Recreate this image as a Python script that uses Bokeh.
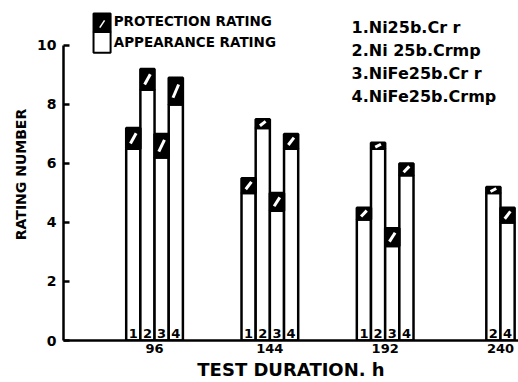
from bokeh.plotting import figure
from bokeh.models import Range1d, FixedTicker, Label
from bokeh.embed import file_html
from bokeh.resources import INLINE
from bokeh.core.properties import value

# ---- data ----
hours = [96, 144, 192, 240]
series_ids = [1, 2, 3, 4]
series_names = ["1.Ni25b.Cr r", "2.Ni 25b.Crmp", "3.NiFe25b.Cr r", "4.NiFe25b.Crmp"]
# appearance rating (white part) per series, per test duration (None = not tested)
appearance_1 = [6.5, 5.0, 4.1, None]
appearance_2 = [8.5, 7.2, 6.5, 5.0]
appearance_3 = [6.2, 4.4, 3.2, None]
appearance_4 = [8.0, 6.5, 5.6, 4.0]
# protection rating (top of hatched part)
protection_1 = [7.2, 5.5, 4.5, None]
protection_2 = [9.2, 7.5, 6.7, 5.2]
protection_3 = [7.0, 5.0, 3.8, None]
protection_4 = [8.9, 7.0, 6.0, 4.5]
y_ticks = [0, 2, 4, 6, 8, 10]

appearance = [appearance_1, appearance_2, appearance_3, appearance_4]
protection = [protection_1, protection_2, protection_3, protection_4]

FONT = "DejaVu Sans"
BAR_W = 5.9

xs, apps, prots, labels = [], [], [], []
for gi, h in enumerate(hours):
    present = [si for si in range(len(series_ids)) if appearance[si][gi] is not None]
    n = len(present)
    for k, si in enumerate(present):
        xs.append(h + (k - (n - 1) / 2) * BAR_W)
        apps.append(appearance[si][gi])
        prots.append(protection[si][gi])
        labels.append(str(series_ids[si]))

p = figure(width=518, height=382, output_backend="svg", toolbar_location=None,
           x_range=Range1d(58.1, 247.5), y_range=Range1d(0, 11.25),
           min_border_left=63, min_border_right=0, min_border_top=8, min_border_bottom=41)
p.outline_line_color = None
p.xgrid.visible = False
p.ygrid.visible = False
p.background_fill_color = "white"

# white appearance bars
p.vbar(x=xs, width=BAR_W, bottom=0, top=apps, fill_color="white",
       line_color="black", line_width=2.5)
# black protection caps with a white diagonal stroke
p.vbar(x=xs, width=BAR_W, bottom=apps, top=prots, fill_color="black",
       line_color="black", line_width=2.5)
sx0 = [x - 0.2 * BAR_W for x in xs]
sx1 = [x + 0.2 * BAR_W for x in xs]
sy0 = [a + 0.25 * (t - a) for a, t in zip(apps, prots)]
sy1 = [a + 0.75 * (t - a) for a, t in zip(apps, prots)]
p.segment(x0=sx0, y0=sy0, x1=sx1, y1=sy1, line_color="white", line_width=3)

p.text(x=xs, y=[0.1] * len(xs), text=labels, text_align="center", text_baseline="bottom",
       text_font=value(FONT), text_font_style="bold", text_font_size="13px", text_color="black")

# axes
p.yaxis.ticker = FixedTicker(ticks=y_ticks)
p.yaxis.bounds = (0, 10)
p.yaxis.major_tick_in = 6
p.yaxis.major_tick_out = 0
p.yaxis.minor_tick_line_color = None
p.yaxis.axis_line_width = 2.5
p.yaxis.major_tick_line_width = 2.5
p.yaxis.major_label_standoff = 7
p.yaxis.major_label_text_font = FONT
p.yaxis.major_label_text_font_style = "bold"
p.yaxis.major_label_text_font_size = "14px"
p.yaxis.major_label_text_color = "black"
p.yaxis.axis_label = "RATING NUMBER"
p.yaxis.axis_label_text_font = FONT
p.yaxis.axis_label_text_font_style = "bold"
p.yaxis.axis_label_text_font_size = "14px"
p.yaxis.axis_label_text_color = "black"
p.yaxis.axis_label_standoff = 5

p.xaxis.ticker = FixedTicker(ticks=hours)
p.xaxis.major_tick_in = 0
p.xaxis.major_tick_out = 0
p.xaxis.minor_tick_line_color = None
p.xaxis.axis_line_width = 2.5
p.xaxis.major_label_standoff = 3
p.xaxis.major_label_text_font = FONT
p.xaxis.major_label_text_font_style = "bold"
p.xaxis.major_label_text_font_size = "13px"
p.xaxis.major_label_text_color = "black"
p.xaxis.axis_label = "TEST DURATION. h"
p.xaxis.axis_label_text_font = FONT
p.xaxis.axis_label_text_font_style = "bold"
p.xaxis.axis_label_text_font_size = "18px"
p.xaxis.axis_label_text_color = "black"
p.xaxis.axis_label_standoff = 3

# rating legend (top-left)
p.quad(left=[70.6], right=[77.7], bottom=[10.45], top=[11.08], fill_color="black",
       line_color="black", line_width=2)
p.segment(x0=[73.2], y0=[10.6], x1=[75.2], y1=[10.85], line_color="white", line_width=1.5)
p.quad(left=[70.6], right=[77.7], bottom=[9.75], top=[10.45], fill_color="white",
       line_color="black", line_width=2)
for txt, yy in [("PROTECTION RATING", 10.83), ("APPEARANCE RATING", 10.12)]:
    p.add_layout(Label(x=79.0, y=yy, text=txt, text_font=FONT, text_font_style="bold",
                       text_font_size="13.5px", text_baseline="middle", text_color="black"))

# series legend (top-right)
for i, name in enumerate(series_names):
    p.add_layout(Label(x=178.0, y=10.6 - i * 0.78, text=name, text_font=FONT,
                       text_font_style="bold", text_font_size="16px",
                       text_baseline="middle", text_color="black"))

open("out.html", "w").write(file_html(p, INLINE))
